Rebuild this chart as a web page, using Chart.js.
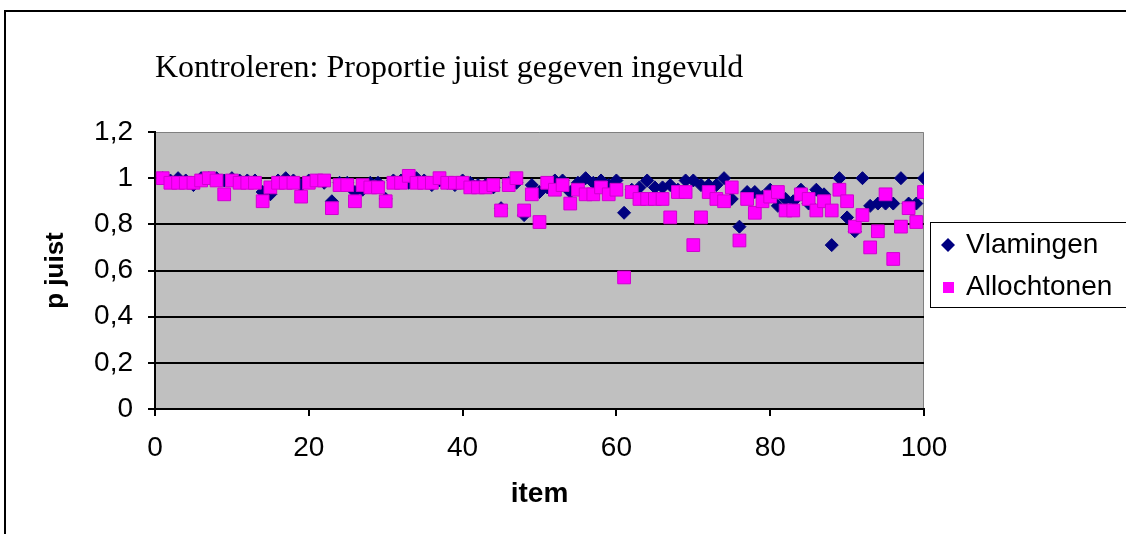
<!DOCTYPE html>
<html>
<head>
<meta charset="utf-8">
<title>Kontroleren: Proportie juist gegeven ingevuld</title>
<script src="https://cdn.jsdelivr.net/npm/chart.js@4.4.1/dist/chart.umd.min.js"></script>
<style>
  html, body { margin: 0; padding: 0; background: #fff; }
  #wrap { position: relative; width: 1126px; height: 534px; }
</style>
</head>
<body>
<div id="wrap"><canvas id="chart" width="1126" height="534"></canvas></div>
<script>
// item nummers (x-as)
const items = [
  1, 2, 3, 4, 5, 6, 7, 8, 9, 10,
  11, 12, 13, 14, 15, 16, 17, 18, 19, 20,
  21, 22, 23, 24, 25, 26, 27, 28, 29, 30,
  31, 32, 33, 34, 35, 36, 37, 38, 39, 40,
  41, 42, 43, 44, 45, 46, 47, 48, 49, 50,
  51, 52, 53, 54, 55, 56, 57, 58, 59, 60,
  61, 62, 63, 64, 65, 66, 67, 68, 69, 70,
  71, 72, 73, 74, 75, 76, 77, 78, 79, 80,
  81, 82, 83, 84, 85, 86, 87, 88, 89, 90,
  91, 92, 93, 94, 95, 96, 97, 98, 99, 100
];

// p juist per item
const vlamingen = [
  1.00, 0.99, 1.00, 0.99, 0.97, 1.00, 1.00, 1.00, 0.99, 1.00,
  0.99, 0.99, 0.99, 0.94, 0.93, 0.99, 1.00, 0.99, 0.97, 0.99,
  0.99, 0.98, 0.90, 0.98, 0.98, 0.94, 0.95, 0.98, 0.98, 0.91,
  0.99, 0.99, 0.98, 1.00, 0.99, 0.97, 0.99, 0.98, 0.97, 0.99,
  0.98, 0.97, 0.97, 0.96, 0.87, 0.98, 0.98, 0.84, 0.97, 0.94,
  0.96, 0.99, 0.99, 0.94, 0.98, 1.00, 0.98, 0.99, 0.97, 0.99,
  0.85, 0.95, 0.96, 0.99, 0.96, 0.96, 0.97, 0.95, 0.99, 0.99,
  0.97, 0.97, 0.97, 1.00, 0.91, 0.79, 0.94, 0.94, 0.92, 0.95,
  0.88, 0.91, 0.90, 0.95, 0.89, 0.95, 0.93, 0.71, 1.00, 0.83,
  0.77, 1.00, 0.88, 0.89, 0.89, 0.89, 1.00, 0.89, 0.89, 1.00
];

const allochtonen = [
  1.00, 0.98, 0.98, 0.98, 0.98, 0.99, 1.00, 0.99, 0.93, 0.99,
  0.98, 0.98, 0.98, 0.90, 0.96, 0.98, 0.98, 0.98, 0.92, 0.98,
  0.99, 0.99, 0.87, 0.97, 0.97, 0.90, 0.97, 0.96, 0.96, 0.90,
  0.98, 0.98, 1.01, 0.98, 0.98, 0.98, 1.00, 0.98, 0.98, 0.98,
  0.96, 0.96, 0.96, 0.97, 0.86, 0.97, 1.00, 0.86, 0.93, 0.81,
  0.98, 0.95, 0.97, 0.89, 0.95, 0.93, 0.93, 0.96, 0.93, 0.95,
  0.57, 0.94, 0.91, 0.91, 0.91, 0.91, 0.83, 0.94, 0.94, 0.71,
  0.83, 0.94, 0.91, 0.90, 0.96, 0.73, 0.91, 0.85, 0.90, 0.92,
  0.94, 0.86, 0.86, 0.93, 0.91, 0.86, 0.90, 0.86, 0.95, 0.90,
  0.79, 0.84, 0.70, 0.77, 0.93, 0.65, 0.79, 0.87, 0.81, 0.94
];

const TITLE = 'Kontroleren: Proportie juist gegeven ingevuld';
const NAVY = '#000080';
const PINK = '#FF00FF';

function toPoints(values) {
  return items.map((it, i) => ({ x: it, y: values[i] }));
}

// 0,2 / 0,4 ... met komma
function fmt(v) {
  const r = Math.round(v * 10) / 10;
  return String(r).replace('.', ',');
}

// achtergrond, kader, titel en legende
const decor = {
  id: 'decor',
  beforeDraw(chart) {
    const ctx = chart.ctx;
    const a = chart.chartArea;
    ctx.save();
    ctx.fillStyle = '#fff';
    ctx.fillRect(0, 0, chart.width, chart.height);

    ctx.strokeStyle = '#000';
    ctx.lineWidth = 2;
    ctx.beginPath();
    ctx.moveTo(5, chart.height);
    ctx.lineTo(5, 11);
    ctx.lineTo(chart.width, 11);
    ctx.stroke();

    ctx.fillStyle = '#C0C0C0';
    ctx.fillRect(a.left, a.top, a.right - a.left, a.bottom - a.top);
    ctx.strokeStyle = '#808080';
    ctx.lineWidth = 1;
    ctx.beginPath();
    ctx.moveTo(a.left, a.top + 0.5);
    ctx.lineTo(a.right - 0.5, a.top + 0.5);
    ctx.lineTo(a.right - 0.5, a.bottom);
    ctx.stroke();
    ctx.restore();
  },
  afterDraw(chart) {
    const ctx = chart.ctx;
    ctx.save();
    ctx.fillStyle = '#000';
    ctx.font = '32px "Liberation Serif", "Times New Roman", serif';
    ctx.textAlign = 'left';
    ctx.textBaseline = 'alphabetic';
    ctx.fillText(TITLE, 155, 77);

    // legende
    ctx.strokeStyle = '#000';
    ctx.lineWidth = 1;
    ctx.strokeRect(930.5, 222.5, 300, 85);
    ctx.font = '28px "Liberation Sans", Arial, sans-serif';
    ctx.textBaseline = 'middle';
    chart.data.datasets.forEach((ds, i) => {
      const y = i === 0 ? 245 : 287;
      ctx.fillStyle = ds.backgroundColor;
      ctx.beginPath();
      if (ds.pointStyle === 'rectRot') {
        ctx.moveTo(948 - 7, y);
        ctx.lineTo(948, y - 7);
        ctx.lineTo(948 + 7, y);
        ctx.lineTo(948, y + 7);
        ctx.closePath();
      } else {
        ctx.rect(943, y - 5, 11, 11);
      }
      ctx.fill();
      ctx.fillStyle = '#000';
      ctx.fillText(ds.label, 966, y);
    });
    ctx.restore();
  }
};

new Chart(document.getElementById('chart'), {
  type: 'scatter',
  data: {
    datasets: [
      {
        label: 'Vlamingen',
        data: toPoints(vlamingen),
        pointStyle: 'rectRot',
        pointRadius: 6.5,
        backgroundColor: NAVY,
        borderColor: NAVY,
        pointBorderWidth: 1,
        order: 1
      },
      {
        label: 'Allochtonen',
        data: toPoints(allochtonen),
        pointStyle: 'rect',
        pointRadius: 9,
        backgroundColor: PINK,
        borderColor: '#D000D0',
        pointBorderWidth: 1,
        order: 0
      }
    ]
  },
  options: {
    responsive: false,
    animation: false,
    layout: { padding: { left: 0, top: 132, right: 202, bottom: 0 } },
    plugins: {
      legend: { display: false },
      tooltip: { enabled: false },
      title: { display: false }
    },
    scales: {
      x: {
        type: 'linear',
        min: 0,
        max: 100,
        afterFit: (s) => { s.height = 125; },
        ticks: {
          stepSize: 20,
          padding: 15,
          color: '#000',
          font: { family: '"Liberation Sans", Arial, sans-serif', size: 28 }
        },
        grid: { drawOnChartArea: false, tickLength: 7, tickColor: '#000', lineWidth: 2 },
        border: { color: '#000', width: 2 },
        title: {
          display: true,
          text: 'item',
          color: '#000',
          padding: { top: 0, bottom: 23 },
          font: { family: '"Liberation Sans", Arial, sans-serif', size: 28, weight: 'bold' }
        }
      },
      y: {
        min: 0,
        max: 1.2,
        afterFit: (s) => { s.width = 155; },
        ticks: {
          stepSize: 0.2,
          padding: 15,
          color: '#000',
          callback: (v) => fmt(v),
          font: { family: '"Liberation Sans", Arial, sans-serif', size: 28 }
        },
        grid: {
          color: (c) => (c.tick && c.tick.value >= 1.19 ? 'rgba(0,0,0,0)' : '#000'),
          lineWidth: 2,
          tickLength: 7,
          tickColor: '#000'
        },
        border: { color: '#000', width: 2 },
        title: {
          display: true,
          text: 'p juist',
          color: '#000',
          padding: { top: 40, bottom: 0 },
          font: { family: '"Liberation Sans", Arial, sans-serif', size: 26, weight: 'bold' }
        }
      }
    }
  },
  plugins: [decor]
});
</script>
</body>
</html>
